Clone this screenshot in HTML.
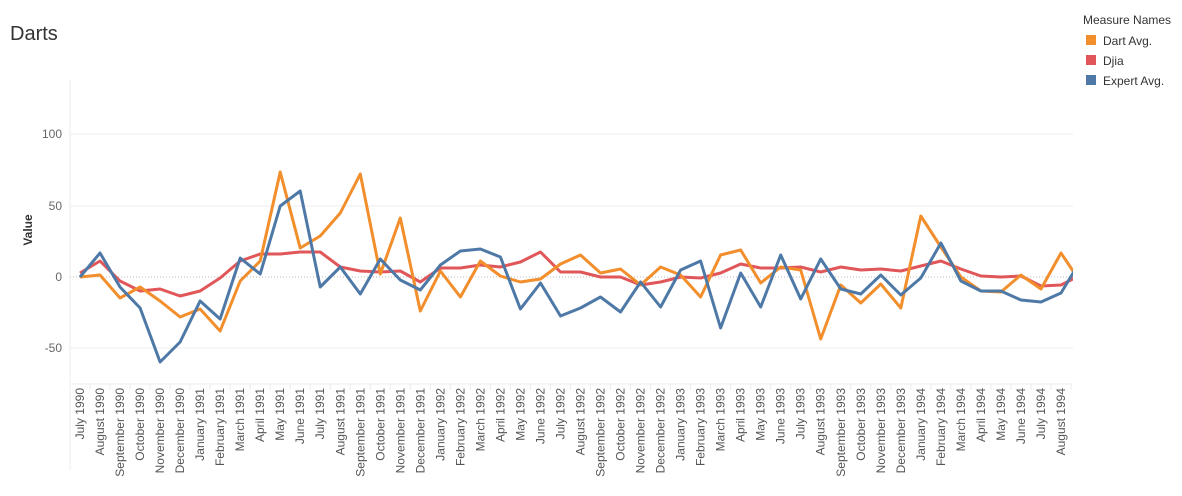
<!DOCTYPE html>
<html><head><style>
body{margin:0;background:#fff;width:1182px;height:491px;overflow:hidden;font-family:"Liberation Sans",sans-serif}
</style></head><body>
<svg width="1182" height="491" xmlns="http://www.w3.org/2000/svg" font-family="Liberation Sans, sans-serif">
<text x="10" y="40" font-size="20" fill="#333">Darts</text>
<g stroke="#ececec" stroke-width="1">
<line x1="70" x2="1073" y1="134" y2="134"/>
<line x1="70" x2="1073" y1="206" y2="206"/>
<line x1="70" x2="1073" y1="348" y2="348"/>
<line x1="70" x2="1073" y1="384" y2="384"/>
<line x1="70" x2="70" y1="80" y2="470"/>
</g>
<line x1="70" x2="1073" y1="277" y2="277" stroke="#bbb" stroke-dasharray="1,2"/>
<g font-size="12" fill="#666" text-anchor="end">
<text x="62" y="138">100</text><text x="62" y="210">50</text><text x="62" y="281">0</text><text x="62" y="352">-50</text>
</g>
<text transform="translate(32,230) rotate(-90)" font-size="12" font-weight="bold" fill="#333" text-anchor="middle">Value</text>
<g id="ticks" stroke="#ececec"></g>
<g id="labels" font-size="12" fill="#555" text-anchor="end"></g>
<defs><clipPath id="c"><rect x="70" y="0" width="1003" height="384"/></clipPath></defs>
<g clip-path="url(#c)" fill="none" stroke-width="3" stroke-linejoin="round">
<polyline id="red" stroke="#e15759"/>
<polyline id="orange" stroke="#f28e2b"/>
<polyline id="blue" stroke="#4e79a7"/>
</g>
<text x="1083" y="24" font-size="12" fill="#333">Measure Names</text>
<rect x="1086" y="35" width="10" height="10" fill="#f28e2b"/><text x="1103" y="45" font-size="12" fill="#333">Dart Avg.</text>
<rect x="1086" y="55" width="10" height="10" fill="#e15759"/><text x="1103" y="65" font-size="12" fill="#333">Djia</text>
<rect x="1086" y="75" width="10" height="10" fill="#4e79a7"/><text x="1103" y="85" font-size="12" fill="#333">Expert Avg.</text>
</svg>
<script>
var o=[277,275,298,287,301,317,309,331,281,261,172,248,236,213,174,274,218,311,271,297,261,276,282,279,264,255,273,269,285,267,275,297,255,250,283,267,270,339,285,303,284,308,216,247,277,291,292,275,289,253,283];
var b=[277,253,287,308,362,342,301,319,258,274,206,191,287,267,294,259,280,290,265,251,249,257,309,283,316,308,297,312,282,307,270,261,328,273,307,255,299,259,289,294,275,295,278,243,281,291,291,300,302,293,260];
var r=[273,261,281,291,289,296,291,278,261,254,254,252,252,267,271,272,271,282,268,268,265,267,262,252,272,272,277,277,285,282,277,278,273,264,268,268,267,272,267,270,269,271,266,261,269,276,277,276,286,285,275];
function pts(a){return a.map(function(y,i){return (80+20.02*i).toFixed(1)+","+y}).join(" ")}
document.getElementById("orange").setAttribute("points",pts(o));
document.getElementById("blue").setAttribute("points",pts(b));
document.getElementById("red").setAttribute("points",pts(r));
var m=["January","February","March","April","May","June","July","August","September","October","November","December"];
var L=document.getElementById("labels"),T=document.getElementById("ticks"),ns="http://www.w3.org/2000/svg";
for(var i=0;i<50;i++){var mi=(6+i)%12,yr=1990+Math.floor((6+i)/12);var x=80+20.02*i;
var t=document.createElementNS(ns,"text");t.setAttribute("transform","translate("+(x+4)+",388) rotate(-90)");t.textContent=m[mi]+" "+yr;L.appendChild(t);
var l=document.createElementNS(ns,"line");l.setAttribute("x1",x+10);l.setAttribute("x2",x+10);l.setAttribute("y1",384);l.setAttribute("y2",390);T.appendChild(l);}
</script>
</body></html>
